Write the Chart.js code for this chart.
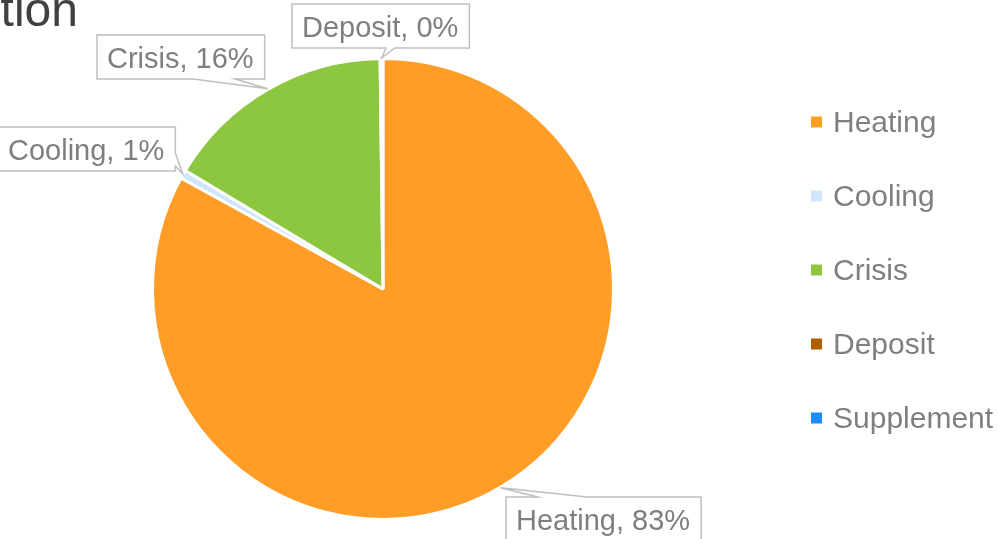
<!DOCTYPE html>
<html>
<head>
<meta charset="utf-8">
<script src="https://cdn.jsdelivr.net/npm/chart.js@4.4.1/dist/chart.umd.min.js"></script>
<style>
    html, body { margin: 0; padding: 0; background: #ffffff; }
    #wrap { width: 998px; height: 539px; position: relative; }
</style>
</head>
<body>
<div id="wrap"><canvas id="myChart" width="998" height="539"></canvas></div>
<script>
// Datos del gráfico
const categories = ['Heating', 'Cooling', 'Crisis', 'Deposit', 'Supplement'];
const shares = [83.0, 0.6, 16.2, 0.2, 0];
const sliceColors = ['#FF9D27', '#CFE5FB', '#8DC63F', '#B05F00', '#1C8CFF'];
const chartTitle = 'Distribution';

// Cajas de etiquetas: posición de la caja y de la base de la flecha
const calloutLayout = [
    { left: 506, top: 497, side: 'top', a: 32, b: 81 },
    { left: -2, top: 127, side: 'right', a: 26, b: 39 },
    { left: 97, top: 35, side: 'bottom', a: 96, b: 138 },
    { left: 292, top: 4, side: 'bottom', a: 94, b: 103 },
    null
];

const labelFont = '29px "Liberation Sans", Arial, sans-serif';
const legendFont = '30px "Liberation Sans", Arial, sans-serif';
const textGray = '#7f7f7f';

function percentOf(i) {
    const total = shares.reduce((s, v) => s + v, 0);
    return Math.round(shares[i] / total * 100);
}

// Dibuja la caja con su flecha apuntando al sector
function calloutPath(ctx, x, y, w, h, side, a, b, tip) {
    ctx.beginPath();
    ctx.moveTo(x, y);
    if (side === 'top') {
        ctx.lineTo(x + a, y); ctx.lineTo(tip.x, tip.y); ctx.lineTo(x + b, y);
    }
    ctx.lineTo(x + w, y);
    if (side === 'right') {
        ctx.lineTo(x + w, y + a); ctx.lineTo(tip.x, tip.y); ctx.lineTo(x + w, y + b);
    }
    ctx.lineTo(x + w, y + h);
    if (side === 'bottom') {
        ctx.lineTo(x + b, y + h); ctx.lineTo(tip.x, tip.y); ctx.lineTo(x + a, y + h);
    }
    ctx.lineTo(x, y + h);
    if (side === 'left') {
        ctx.lineTo(x, y + b); ctx.lineTo(tip.x, tip.y); ctx.lineTo(x, y + a);
    }
    ctx.closePath();
}

const calloutPlugin = {
    id: 'callouts',
    afterDatasetsDraw(chart) {
        const ctx = chart.ctx;
        const meta = chart.getDatasetMeta(0);
        ctx.save();
        ctx.font = labelFont;
        meta.data.forEach((arc, i) => {
            const lay = calloutLayout[i];
            if (!lay) return;
            const p = arc.getProps(['x', 'y', 'startAngle', 'endAngle', 'outerRadius'], true);
            const mid = (p.startAngle + p.endAngle) / 2;
            const r = p.outerRadius + 0.5;
            const tip = { x: p.x + Math.cos(mid) * r, y: p.y + Math.sin(mid) * r };
            const text = categories[i] + ', ' + percentOf(i) + '%';
            const w = ctx.measureText(text).width + 21;
            const h = 44;
            calloutPath(ctx, lay.left, lay.top, w, h, lay.side, lay.a, lay.b, tip);
            ctx.fillStyle = '#ffffff';
            ctx.fill();
            ctx.strokeStyle = '#bfbfbf';
            ctx.lineWidth = 1.5;
            ctx.stroke();
            ctx.fillStyle = textGray;
            ctx.textAlign = 'left';
            ctx.textBaseline = 'alphabetic';
            ctx.fillText(text, lay.left + 10, lay.top + 33);
        });
        ctx.restore();
    },
    afterDraw(chart) {
        const ctx = chart.ctx;
        ctx.save();
        // Título (recortado por el borde izquierdo)
        ctx.font = '48px "Liberation Sans", Arial, sans-serif';
        ctx.fillStyle = '#404040';
        ctx.textAlign = 'right';
        ctx.textBaseline = 'alphabetic';
        ctx.fillText(chartTitle, 78, 26);

        // Leyenda a la derecha
        ctx.font = legendFont;
        ctx.textAlign = 'left';
        categories.forEach((name, i) => {
            const cy = 122 + i * 74;
            ctx.fillStyle = sliceColors[i];
            ctx.fillRect(811, cy - 5.5, 11, 11);
            ctx.fillStyle = textGray;
            ctx.fillText(name, 833, cy + 10);
        });
        ctx.restore();
    }
};

const ctx = document.getElementById('myChart').getContext('2d');
const myChart = new Chart(ctx, {
    type: 'pie',
    data: {
        labels: categories,
        datasets: [{
            data: shares,
            backgroundColor: sliceColors,
            borderColor: '#ffffff',
            borderWidth: 3,
            hoverOffset: 0,
            offset: 0
        }]
    },
    options: {
        responsive: false,
        animation: false,
        layout: {
            padding: { left: 151, right: 383, top: 57, bottom: 18 }
        },
        plugins: {
            legend: { display: false },
            tooltip: { enabled: false },
            title: { display: false }
        }
    },
    plugins: [calloutPlugin]
});
</script>
</body>
</html>
